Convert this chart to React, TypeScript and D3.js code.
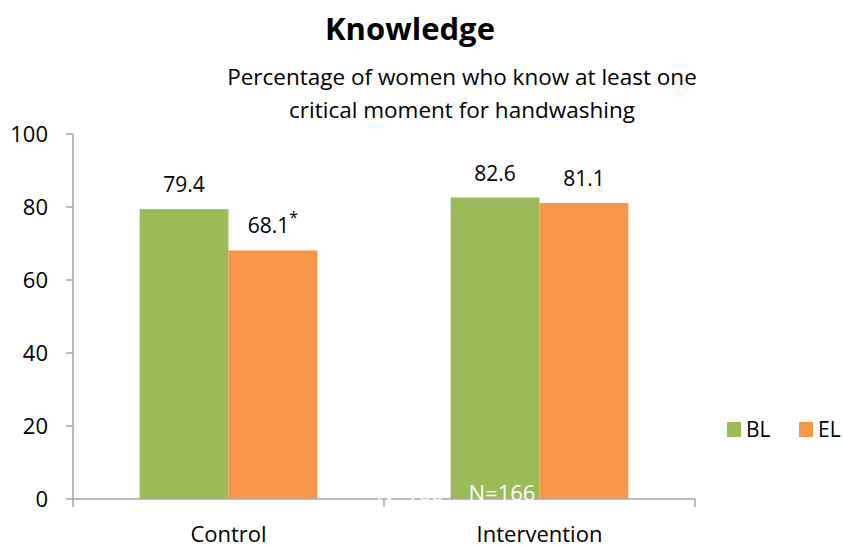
import React from "react";
import * as d3 from "d3";

const categories = ["Control", "Intervention"];
const seriesNames = ["BL", "EL"];
const blValues = [79.4, 82.6];
const elValues = [68.1, 81.1];
const elMarks = ["*", ""];
const yTicks = [0, 20, 40, 60, 80, 100];
const colors = ["#9BBB59", "#F79646"];

const W = 843;
const H = 547;
const FONT = "'Open Sans', 'Noto Sans', 'DejaVu Sans', sans-serif";

export default function App() {
  const x = d3.scaleBand<string>().domain(categories).range([73, 695]).paddingInner(0).paddingOuter(0);
  const inner = d3
    .scaleBand<string>()
    .domain(seriesNames)
    .range([0, x.bandwidth()])
    .paddingOuter(0.75)
    .paddingInner(0);
  const y = d3.scaleLinear().domain([0, 100]).range([499, 134]);
  const axisColor = "#A6A6A6";

  const rows = categories.map((c, i) => ({
    cat: c,
    vals: [blValues[i], elValues[i]],
    marks: ["", elMarks[i]],
  }));

  return (
    <svg width={W} height={H} style={{ position: "absolute", left: 0, top: 0 }} fontFamily={FONT}>
      <rect width={W} height={H} fill="#fff" />
      <text x={410} y={40} textAnchor="middle" fontSize={31} fontWeight="bold" fill="#000">
        Knowledge
      </text>
      <text x={462} y={85} textAnchor="middle" fontSize={22.5} fill="#000">
        Percentage of women who know at least one
      </text>
      <text x={462} y={118} textAnchor="middle" fontSize={22.5} fill="#000">
        critical moment for handwashing
      </text>

      {/* y axis */}
      <line x1={73} x2={73} y1={y(100)} y2={y(0)} stroke={axisColor} strokeWidth={1.5} />
      {yTicks.map((t) => (
        <g key={t}>
          <line x1={66} x2={73} y1={y(t)} y2={y(t)} stroke={axisColor} strokeWidth={1.5} />
          <text x={48} y={y(t)} dy="0.35em" textAnchor="end" fontSize={22} fill="#000">
            {t}
          </text>
        </g>
      ))}

      {/* bars */}
      {rows.map((r) => (
        <g key={r.cat} transform={`translate(${x(r.cat)},0)`}>
          {r.vals.map((v, j) => {
            const bx = inner(seriesNames[j])!;
            const bw = inner.bandwidth();
            return (
              <g key={j}>
                <rect x={bx} y={y(v)} width={bw} height={y(0) - y(v)} fill={colors[j]} />
                <text x={bx + bw / 2} y={y(v) - 17} textAnchor="middle" fontSize={21} fill="#000">
                  {v.toFixed(1)}
                  {r.marks[j] && (
                    <tspan fontSize={16} dy={-10}>
                      {r.marks[j]}
                    </tspan>
                  )}
                </text>
              </g>
            );
          })}
        </g>
      ))}

      {/* x axis */}
      <line x1={73} x2={695} y1={y(0)} y2={y(0)} stroke={axisColor} strokeWidth={1.5} />
      {[73, ...categories.map((c) => x(c)! + x.bandwidth())].map((px, i) => (
        <line key={i} x1={px} x2={px} y1={y(0)} y2={y(0) + 8} stroke={axisColor} strokeWidth={1.5} />
      ))}
      {categories.map((c) => (
        <text key={c} x={x(c)! + x.bandwidth() / 2} y={542} textAnchor="middle" fontSize={22} fill="#000">
          {c}
        </text>
      ))}

      {/* sample size notes */}
      <text x={410} y={501} textAnchor="middle" fontSize={22} fill="#fff">
        N=166
      </text>
      <text x={502} y={501} textAnchor="middle" fontSize={22} fill="#fff">
        N=166
      </text>

      {/* legend */}
      {seriesNames.map((s, i) => (
        <g key={s} transform={`translate(${727 + i * 72},422)`}>
          <rect width={14} height={15} fill={colors[i]} />
          <text x={19} y={8} dy="0.35em" fontSize={21} fill="#000">
            {s}
          </text>
        </g>
      ))}
    </svg>
  );
}
